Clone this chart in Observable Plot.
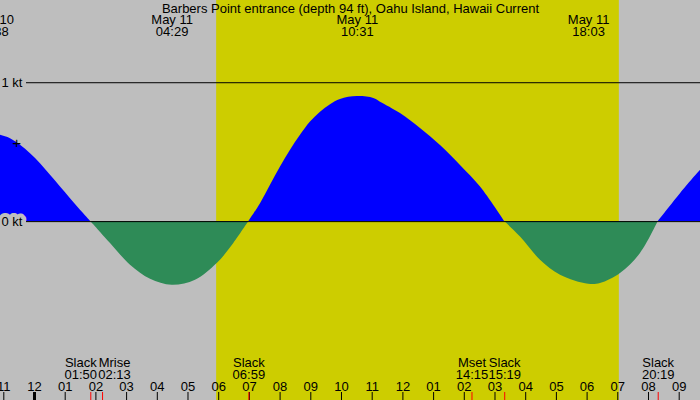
<!DOCTYPE html>
<html><head><meta charset="utf-8">
<script src="https://cdn.jsdelivr.net/npm/d3@7"></script>
<script src="https://cdn.jsdelivr.net/npm/@observablehq/plot@0.6"></script>
<style>html,body{margin:0;padding:0;overflow:hidden;background:#bebebe}</style>
</head><body><div id="chart"></div>
<script>
const title = "Barbers Point entrance (depth 94 ft), Oahu Island, Hawaii Current";

// hours since midnight May 11 (negative = May 10)
const times = [-1.367, -1.107, -0.782, -0.456, -0.130, 0.195, 0.521, 0.847, 1.173, 1.498,
  1.833, 2.476, 3.127, 3.779, 4.483, 5.244, 5.951, 6.492, 6.983, 7.362,
  7.687, 8.013, 8.339, 8.664, 8.990, 9.316, 9.642, 9.967, 10.517, 11.052,
  11.270, 11.922, 12.573, 13.225, 13.876, 14.528, 15.317, 15.831, 16.482, 17.134,
  18.050, 18.436, 19.088, 19.739, 20.317, 21.042, 21.694];
// current in knots
const knots = [0.635, 0.621, 0.597, 0.549, 0.489, 0.417, 0.333, 0.249, 0.165, 0.081,
  0, -0.158, -0.314, -0.415, -0.458, -0.422, -0.302, -0.158, 0, 0.129,
  0.261, 0.393, 0.513, 0.621, 0.717, 0.788, 0.842, 0.880, 0.900, 0.887,
  0.860, 0.778, 0.670, 0.548, 0.404, 0.249, 0, -0.111, -0.278, -0.386,
  -0.451, -0.446, -0.374, -0.230, 0, 0.201, 0.369];

const extremeDates = ["May 10", "May 11", "May 11", "May 11"];
const extremeTimes = ["22:38", "04:29", "10:31", "18:03"];
const extremeDayOffset = [-24, 0, 0, 0];

const eventNames = ["Slack", "Mrise", "Slack", "Mset", "Slack", "Slack"];
const eventTimes = ["01:50", "02:13", "06:59", "14:15", "15:19", "20:19"];
const eventShift = [-10, 12, 0, 0, 0, 0];

const sunrise = "05:56";
const sunset = "19:03";

const hourTicks = [-1, 0, 1, 2, 3, 4, 5, 6, 7, 8, 9, 10, 11, 12, 13, 14, 15, 16, 17, 18, 19, 20, 21];
const hourLabels = ["11", "12", "01", "02", "03", "04", "05", "06", "07", "08", "09", "10", "11",
  "12", "01", "02", "03", "04", "05", "06", "07", "08", "09"];

const knotLines = [1, 0];
const plusMarker = [{t: -0.586, v: 0.563}];

const toH = (s, off = 0) => { const [h, m] = s.split(":").map(Number); return h + m / 60 + off; };

const pts = times.map((t, i) => ({t, v: knots[i]}));
const segs = [];
let cur = [];
for (const p of pts) {
  cur.push(p);
  if (p.v === 0 && cur.length > 1) { segs.push(cur); cur = [p]; }
}
if (cur.length > 1) segs.push(cur);
const rows = segs.flatMap((s, i) => {
  const sign = s.some(p => p.v > 0) ? "flood" : "ebb";
  return s.map(p => ({...p, seg: i, sign}));
});

const extremes = extremeTimes.map((s, i) => ({t: toH(s, extremeDayOffset[i]), label: extremeDates[i] + "\n" + s}));
const events = eventTimes.map((s, i) => ({t: toH(s), label: eventNames[i] + "\n" + s, shift: eventShift[i]}));
const hours = hourTicks.map((h, i) => ({t: h, label: hourLabels[i]}));

const FONT = "Liberation Sans, Arial, sans-serif";
const eventText = (data, shift) => Plot.text(data, {x: "t", text: "label", dx: shift, frameAnchor: "bottom",
  lineAnchor: "bottom", lineHeight: 0.9, dy: -21.7, fontSize: 13, fontFamily: FONT, fill: "black"});

const chart = Plot.plot({
  width: 700,
  height: 400,
  margin: 0,
  style: {background: "#bebebe", fontFamily: FONT},
  x: {domain: [-1.1075, 21.694], axis: null},
  y: {domain: [-1.288, 1.592], axis: null},
  color: {domain: ["flood", "ebb"], range: ["#0000ff", "#2e8b57"]},
  marks: [
    Plot.rect([{rise: toH(sunrise), set: toH(sunset)}], {x1: "rise", x2: "set", fill: "#cdcd00"}),
    Plot.areaY(rows, {x: "t", y: "v", z: "seg", fill: "sign", curve: "catmull-rom"}),
    Plot.text(knotLines, {y: d => d, text: d => `${d} kt`, frameAnchor: "left", textAnchor: "start", dx: 1,
      fontSize: 13, fontFamily: FONT, fill: "black", stroke: "#bebebe", strokeWidth: 8, strokeLinejoin: "round"}),
    Plot.ruleY(knotLines, {stroke: "black", strokeWidth: 1, insetLeft: 26}),
    Plot.text(plusMarker, {x: "t", y: "v", text: () => "+", fontSize: 15, fontFamily: FONT, fill: "black"}),
    Plot.text([title], {text: d => d, frameAnchor: "top", lineAnchor: "top", dy: 3.4, fontSize: 13, fontFamily: FONT, fill: "black"}),
    Plot.text(extremes, {x: "t", text: "label", frameAnchor: "top", lineAnchor: "top", lineHeight: 0.9, dy: 15.5,
      fontSize: 13, fontFamily: FONT, fill: "black"}),
    eventText(events.filter(d => d.shift === 0), 0),
    ...events.filter(d => d.shift !== 0).map(d => eventText([d], d.shift)),
    Plot.text(hours, {x: "t", text: "label", frameAnchor: "bottom", lineAnchor: "bottom", dy: -10,
      fontSize: 13, fontFamily: FONT, fill: "black"}),
    Plot.ruleX(hours.filter(d => d.t % 24 !== 0), {x: "t", insetTop: 392, stroke: "black", strokeWidth: 1}),
    Plot.ruleX(hours.filter(d => d.t % 24 === 0), {x: "t", insetTop: 392, stroke: "black", strokeWidth: 3}),
    Plot.ruleX(events, {x: "t", insetTop: 392, stroke: "red", strokeWidth: 1})
  ]
});
document.getElementById("chart").appendChild(chart);
</script>
</body></html>
